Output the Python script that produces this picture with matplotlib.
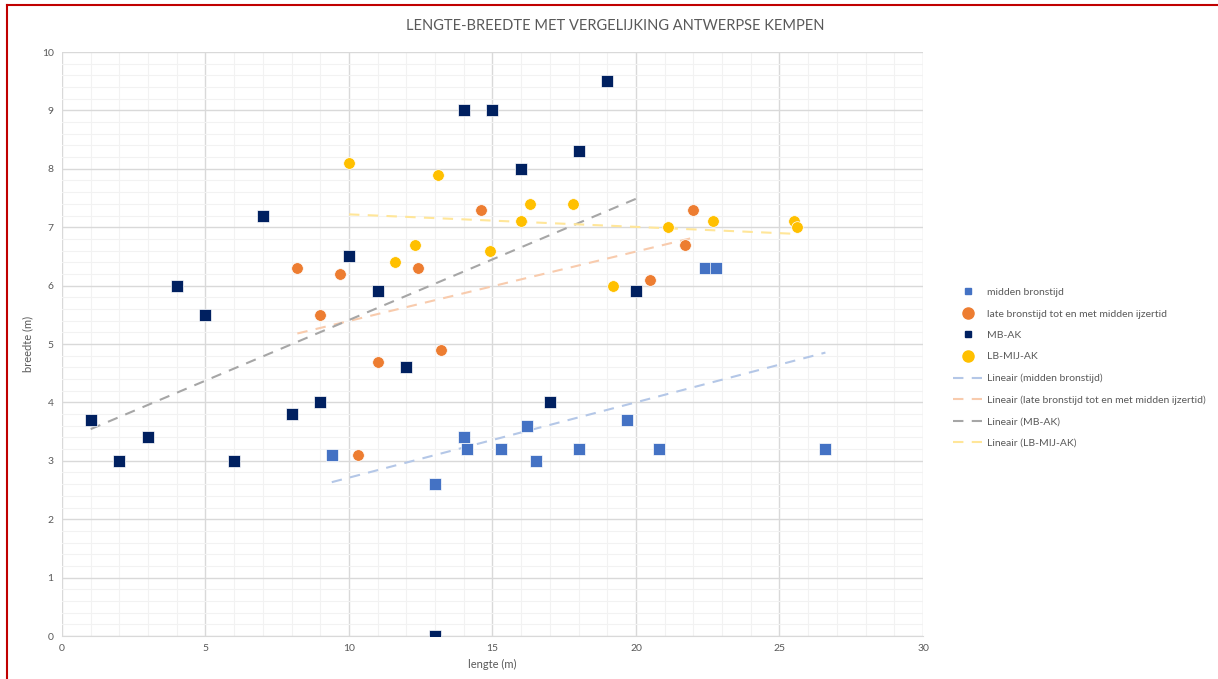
import numpy as np
import matplotlib
matplotlib.use("Agg")
import matplotlib.pyplot as plt
from matplotlib.lines import Line2D

plt.rcParams['font.family'] = ['Lato', 'DejaVu Sans']

# midden bronstijd
mb_x = [9.4, 13.0, 14.0, 14.1, 15.3, 16.2, 16.5, 18.0, 19.7, 20.8, 22.4, 22.8, 26.6]
mb_y = [3.1, 2.6, 3.4, 3.2, 3.2, 3.6, 3.0, 3.2, 3.7, 3.2, 6.3, 6.3, 3.2]

# late bronstijd tot en met midden ijzertid
lb_x = [8.2, 9.0, 9.7, 10.3, 11.0, 12.4, 13.2, 14.6, 20.5, 21.7, 22.0]
lb_y = [6.3, 5.5, 6.2, 3.1, 4.7, 6.3, 4.9, 7.3, 6.1, 6.7, 7.3]

# MB-AK
ak_x = [1, 2, 3, 4, 5, 6, 7, 8, 9, 10, 11, 12, 13, 14, 15, 16, 17, 18, 19, 20]
ak_y = [3.7, 3.0, 3.4, 6.0, 5.5, 3.0, 7.2, 3.8, 4.0, 6.5, 5.9, 4.6, 0.0, 9.0, 9.0, 8.0, 4.0, 8.3, 9.5, 5.9]

# LB-MIJ-AK
lbak_x = [10.0, 11.6, 12.3, 13.1, 14.9, 16.0, 16.3, 17.8, 19.2, 21.1, 22.7, 25.5, 25.6]
lbak_y = [8.1, 6.4, 6.7, 7.9, 6.6, 7.1, 7.4, 7.4, 6.0, 7.0, 7.1, 7.1, 7.0]

names = ['midden bronstijd', 'late bronstijd tot en met midden ijzertid', 'MB-AK', 'LB-MIJ-AK']
colors = ['#4472C4', '#ED7D31', '#002060', '#FFC000']
trend_colors = ['#B4C7E7', '#F8CBAD', '#A6A6A6', '#FFE699']
markers = ['s', 'o', 's', 'o']
sizes = [64, 70, 64, 70]
series = [(mb_x, mb_y), (lb_x, lb_y), (ak_x, ak_y), (lbak_x, lbak_y)]

fig = plt.figure(figsize=(12.18, 6.79), dpi=100)
ax = fig.add_axes([0.0509, 0.0633, 0.7069, 0.8601])

for (x, y), c, tc in zip(series, colors, trend_colors):
    x = np.array(x)
    k, b = np.polyfit(x, y, 1)
    xx = np.array([x.min(), x.max()])
    ax.plot(xx, k * xx + b, color=tc, lw=1.5, dashes=(5, 4), zorder=2)

for (x, y), c, m, s in zip(series, colors, markers, sizes):
    ax.scatter(x, y, color=c, marker=m, s=s, edgecolors='white', linewidths=0.5, zorder=3)

ax.set_xlim(0, 30)
ax.set_ylim(0, 10)
ax.set_xticks(np.arange(0, 31, 5))
ax.set_yticks(np.arange(0, 11, 1))
ax.set_xticks(np.arange(0, 31, 1), minor=True)
ax.set_yticks(np.arange(0, 10.01, 0.2), minor=True)
ax.grid(which='major', color='#D9D9D9', lw=1)
ax.grid(which='minor', color='#F2F2F2', lw=0.8)
ax.set_axisbelow(True)
for sp in ['top', 'right', 'left']:
    ax.spines[sp].set_visible(False)
ax.spines['bottom'].set_color('#D9D9D9')
ax.tick_params(which='both', length=0, colors='#595959', labelsize=7.5, pad=6)

ax.set_xlabel('lengte (m)', fontsize=8, color='#595959', labelpad=4)
ax.set_ylabel('breedte (m)', fontsize=8, color='#595959', labelpad=6)
fig.text(0.505, 0.962, 'LENGTE-BREEDTE MET VERGELIJKING ANTWERPSE KEMPEN', fontsize=10.5,
         color='#595959', ha='center', va='center')

handles = []
for n, c, m in zip(names, colors, markers):
    handles.append(Line2D([], [], ls='none', marker=m, color=c,
                          markersize=5 if m == 's' else 8))
for n, tc in zip(names, trend_colors):
    handles.append(Line2D([], [], color=tc, lw=1.5, dashes=(5, 4)))
labels = names + ['Lineair (%s)' % n for n in names]
fig.legend(handles, labels, loc='upper left', bbox_to_anchor=(0.775, 0.59),
           frameon=False, fontsize=7.5, labelcolor='#595959', handlelength=2.8,
           labelspacing=1.17, handletextpad=0.4)

# red frame at top and left of screenshot
fig.add_artist(Line2D([0.006, 1], [0.993, 0.993], color='#C00000', lw=1.5))
fig.add_artist(Line2D([0.006, 0.006], [0, 0.993], color='#C00000', lw=1.5))

fig.savefig('out.png', dpi=100)
